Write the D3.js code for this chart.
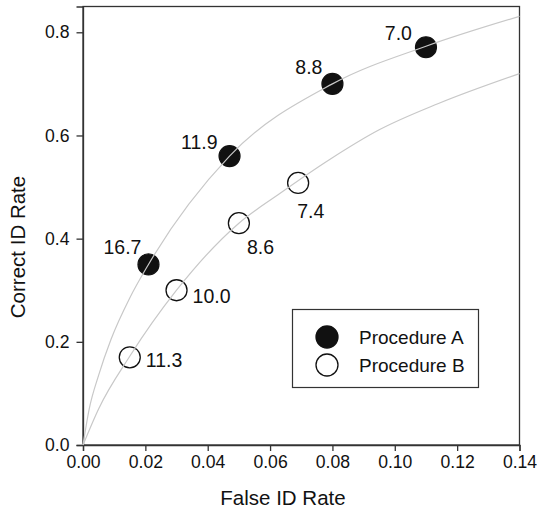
<!DOCTYPE html>
<html>
<head>
<meta charset="utf-8">
<script src="https://cdn.jsdelivr.net/npm/d3@7"></script>
<style>
  html, body { margin: 0; padding: 0; background: #fff; }
  svg { display: block; font-family: "Liberation Sans", Arial, sans-serif; }
</style>
</head>
<body>
<svg id="chart" width="537" height="512"></svg>
<script>
// ---- data ----
const procAFalse = [0.021, 0.047, 0.080, 0.110];
const procACorrect = [0.350, 0.560, 0.700, 0.771];
const procALabels = ["16.7", "11.9", "8.8", "7.0"];

const procBFalse = [0.015, 0.030, 0.050, 0.069];
const procBCorrect = [0.170, 0.300, 0.430, 0.508];
const procBLabels = ["11.3", "10.0", "8.6", "7.4"];

// model curves
const curveAFalse   = [0, 0.002, 0.005, 0.009, 0.015, 0.021, 0.047, 0.080, 0.110, 0.140];
const curveACorrect = [0, 0.070, 0.135, 0.205, 0.285, 0.350, 0.560, 0.700, 0.773, 0.831];
const curveBFalse   = [0, 0.005, 0.015, 0.030, 0.050, 0.063, 0.079, 0.095, 0.114, 0.140];
const curveBCorrect = [0, 0.070, 0.172, 0.300, 0.430, 0.487, 0.553, 0.611, 0.662, 0.720];

const xTicks = [0, 0.02, 0.04, 0.06, 0.08, 0.10, 0.12, 0.14];
const yTicks = [0, 0.2, 0.4, 0.6, 0.8];
const legendLabels = ["Procedure A", "Procedure B"];

// label placement (offsets, style only)
const labelOffA = [[-7, -10, "end"], [-12, -7, "end"], [-10, -10, "end"], [-14, -7, "end"]];
const labelOffB = [[16, 10, "start"], [16, 13, "start"], [8, 31, "start"], [-1, 35, "start"]];

// ---- layout ----
const svg = d3.select("#chart");
const mLeft = 83, mRight = 519.5, mTop = 6.5, mBottom = 445;

const x = d3.scaleLinear().domain([0, 0.14]).range([mLeft, mRight]);
const y = d3.scaleLinear().domain([0, 0.85]).range([mBottom, mTop]);

const axisColor = "#333";

const line = d3.line().x(d => x(d[0])).y(d => y(d[1])).curve(d3.curveMonotoneX);
const curves = [
  d3.zip(curveAFalse, curveACorrect),
  d3.zip(curveBFalse, curveBCorrect)
];

// frame
svg.append("rect")
  .attr("x", mLeft).attr("y", mTop)
  .attr("width", mRight - mLeft).attr("height", mBottom - mTop)
  .attr("fill", "none").attr("stroke", axisColor).attr("stroke-width", 1.3);

// axes
const xAxis = d3.axisBottom(x).tickValues(xTicks).tickFormat(d3.format(".2f")).tickSize(6).tickPadding(5);
const yAxis = d3.axisLeft(y).tickValues(yTicks).tickFormat(d3.format(".1f")).tickSize(6.5).tickPadding(7);

const gx = svg.append("g").attr("transform", `translate(0,${mBottom})`).call(xAxis);
const gy = svg.append("g").attr("transform", `translate(${mLeft},0)`).call(yAxis);
[gx, gy].forEach(g => {
  g.select(".domain").attr("stroke", axisColor).attr("stroke-width", 1.3);
  g.selectAll(".tick line").attr("stroke", axisColor).attr("stroke-width", 1.3);
  g.selectAll(".tick text").attr("fill", "#111").attr("font-size", 17.6)
    .attr("font-family", '"Liberation Sans", Arial, sans-serif');
});

// axis titles
svg.append("text")
  .attr("x", 283).attr("y", 505)
  .attr("text-anchor", "middle").attr("font-size", 20.5).attr("fill", "#111")
  .text("False ID Rate");
svg.append("text")
  .attr("transform", "translate(25,247) rotate(-90)")
  .attr("text-anchor", "middle").attr("font-size", 20.5).attr("fill", "#111")
  .text("Correct ID Rate");

// points
const r = 10.5;
const A = procAFalse.map((f, i) => ({f, c: procACorrect[i], label: procALabels[i], off: labelOffA[i]}));
const B = procBFalse.map((f, i) => ({f, c: procBCorrect[i], label: procBLabels[i], off: labelOffB[i]}));

svg.append("g").selectAll("circle").data(A).join("circle")
  .attr("cx", d => x(d.f)).attr("cy", d => y(d.c)).attr("r", r)
  .attr("fill", "#111").attr("stroke", "#111").attr("stroke-width", 1.2);
svg.append("g").selectAll("circle").data(B).join("circle")
  .attr("cx", d => x(d.f)).attr("cy", d => y(d.c)).attr("r", r)
  .attr("fill", "#fff").attr("stroke", "#111").attr("stroke-width", 1.3);

// curves drawn over the points (as in the reference)
svg.append("g").selectAll("path").data(curves).join("path")
  .attr("d", line)
  .attr("fill", "none")
  .attr("stroke", "#c8c8c8")
  .attr("stroke-width", 1.2);

svg.append("g").selectAll("text").data(A.concat(B)).join("text")
  .attr("x", d => x(d.f) + d.off[0]).attr("y", d => y(d.c) + d.off[1])
  .attr("text-anchor", d => d.off[2])
  .attr("font-size", 19.5).attr("fill", "#111")
  .text(d => d.label);

// legend
const lg = svg.append("g");
lg.append("rect").attr("x", 292.5).attr("y", 309.5).attr("width", 186).attr("height", 78)
  .attr("fill", "#fff").attr("stroke", axisColor).attr("stroke-width", 1.2);
const legendFills = ["#111", "#fff"];
lg.selectAll("circle").data(legendLabels).join("circle")
  .attr("cx", 327).attr("cy", (d, i) => 337 + i * 28).attr("r", 11)
  .attr("fill", (d, i) => legendFills[i]).attr("stroke", "#111").attr("stroke-width", 1.3);
lg.selectAll("text").data(legendLabels).join("text")
  .attr("x", 359).attr("y", (d, i) => 343.5 + i * 28)
  .attr("font-size", 19).attr("fill", "#111")
  .text(d => d);
</script>
</body>
</html>
